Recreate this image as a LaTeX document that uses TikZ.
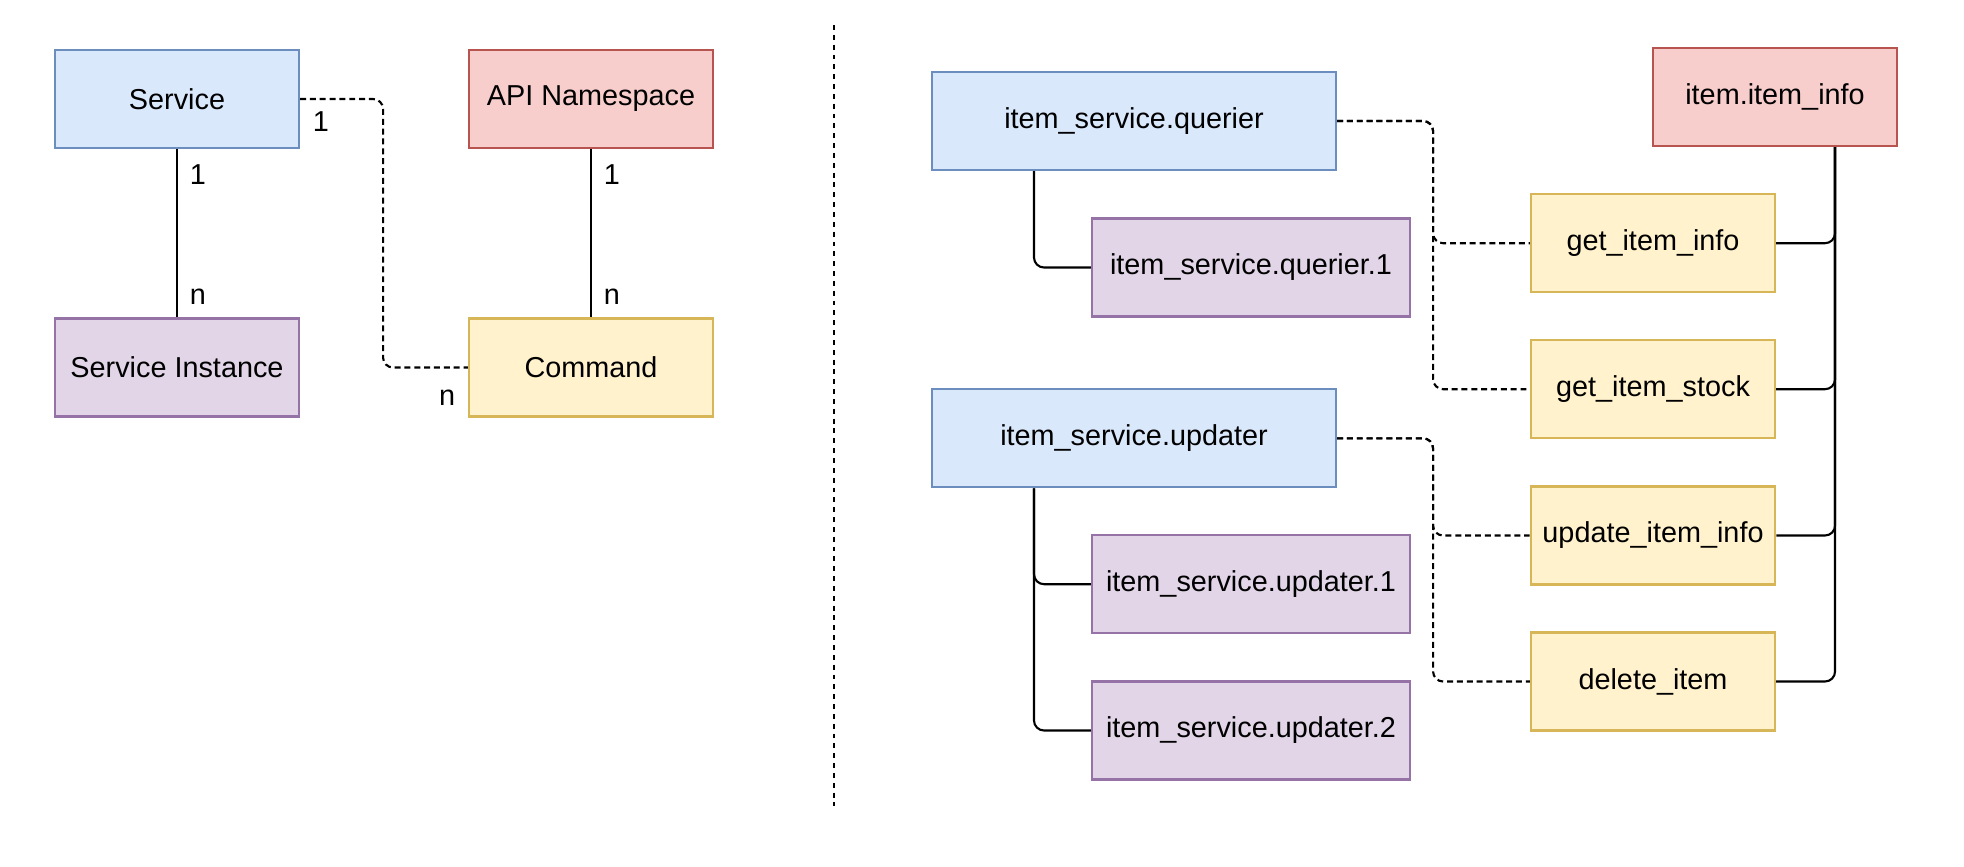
\documentclass[tikz,border=0pt]{standalone}
\usepackage{fontspec}
\setmainfont{Liberation Sans}
\usepackage{tikz}

\definecolor{svcfill}{HTML}{DAE8FC}
\definecolor{svcline}{HTML}{6C8EBF}
\definecolor{nsfill}{HTML}{F8CECC}
\definecolor{nsline}{HTML}{B85450}
\definecolor{instfill}{HTML}{E1D5E7}
\definecolor{instline}{HTML}{9673A6}
\definecolor{cmdfill}{HTML}{FFF2CC}
\definecolor{cmdline}{HTML}{D6B656}

\tikzset{
	box/.style={shape=rectangle,line width=0.6pt,minimum width=2.44cm,minimum height=0.98cm,font=\fontsize{8.2}{10}\selectfont},
	bluebox/.style={box,draw=svcline,fill=svcfill},
	redbox/.style={box,draw=nsline,fill=nsfill},
	purplebox/.style={box,draw=instline,fill=instfill},
	yellowbox/.style={box,draw=cmdline,fill=cmdfill},
	lbl/.style={font=\fontsize{8.2}{10}\selectfont},
	conn/.style={draw=black,line width=0.6pt},
	dashline/.style={conn,dash pattern=on 1.7pt off 1.1pt,rounded corners=0.1cm},
	divider/.style={draw=black,line width=0.8pt,dash pattern=on 1.4pt off 1.4pt}
}

\begin{document}
\begin{tikzpicture}
	\useasboundingbox (0,0) rectangle (19.64,-8.66);

	% left: the model
	\node[bluebox] (service) at (1.77,-0.99)     {Service};
	\node[redbox] (api) at (5.91,-0.99)     {API Namespace};
	\node[purplebox] (instance) at (1.77,-3.675)     {Service Instance};
	\node[yellowbox] (command) at (5.91,-3.675)     {Command};

	\path[conn] (service) edge node[lbl,right,pos=0.15]{1} node[lbl,right,pos=0.88]{n} (instance);
	\path[conn] (api) edge node[lbl,right,pos=0.15]{1} node[lbl,right,pos=0.88]{n} (command);
	\draw[dashline] (service.east) node[lbl,below right]{1} -- ++(0.83,0) |- (command.west) node[lbl,below left,yshift=-0.1cm]{n};

	% divider
	\coordinate (divtop) at (8.34,-0.25);
	\coordinate (divbot) at (8.34,-8.06);
	\path[divider] (divtop) -- (divbot);

	% right: an example
	\node[bluebox,minimum width=4.04cm] (querier) at (11.34,-1.21)     {item\_service.querier};
	\node[purplebox,minimum width=3.18cm] (querier1) at (12.51,-2.675)     {item\_service.querier.1};
	\node[bluebox,minimum width=4.04cm] (updater) at (11.34,-4.383)     {item\_service.updater};
	\node[purplebox,minimum width=3.18cm] (updater1) at (12.51,-5.842)     {item\_service.updater.1};
	\node[purplebox,minimum width=3.18cm] (updater2) at (12.51,-7.305)     {item\_service.updater.2};
	\node[redbox] (iteminfo) at (17.75,-0.97)     {item.item\_info};
	\node[yellowbox] (getinfo) at (16.53,-2.432)     {get\_item\_info};
	\node[yellowbox] (getstock) at (16.53,-3.892)     {get\_item\_stock};
	\node[yellowbox] (updinfo) at (16.53,-5.355)     {update\_item\_info};
	\node[yellowbox] (delitem) at (16.53,-6.815)     {delete\_item};

	\draw[conn,rounded corners=0.1cm] ([xshift=-1cm]querier.south) |- (querier1.west);
	\draw[conn,rounded corners=0.1cm] ([xshift=-1cm]updater.south) |- (updater1.west);
	\draw[conn,rounded corners=0.1cm] ([xshift=-1cm]updater.south) |- (updater2.west);

	\draw[dashline] (querier.east) -- ++(0.96,0) |- (getinfo.west);
	\draw[dashline] (querier.east) -- ++(0.96,0) |- (getstock.west);
	\draw[dashline] (updater.east) -- ++(0.96,0) |- (updinfo.west);
	\draw[dashline] (updater.east) -- ++(0.96,0) |- (delitem.west);

	\draw[conn,rounded corners=0.1cm] (getinfo.east) -| ([xshift=0.6cm]iteminfo.south);
	\draw[conn,rounded corners=0.1cm] (getstock.east) -| ([xshift=0.6cm]iteminfo.south);
	\draw[conn,rounded corners=0.1cm] (updinfo.east) -| ([xshift=0.6cm]iteminfo.south);
	\draw[conn,rounded corners=0.1cm] (delitem.east) -| ([xshift=0.6cm]iteminfo.south);
\end{tikzpicture}
\end{document}
